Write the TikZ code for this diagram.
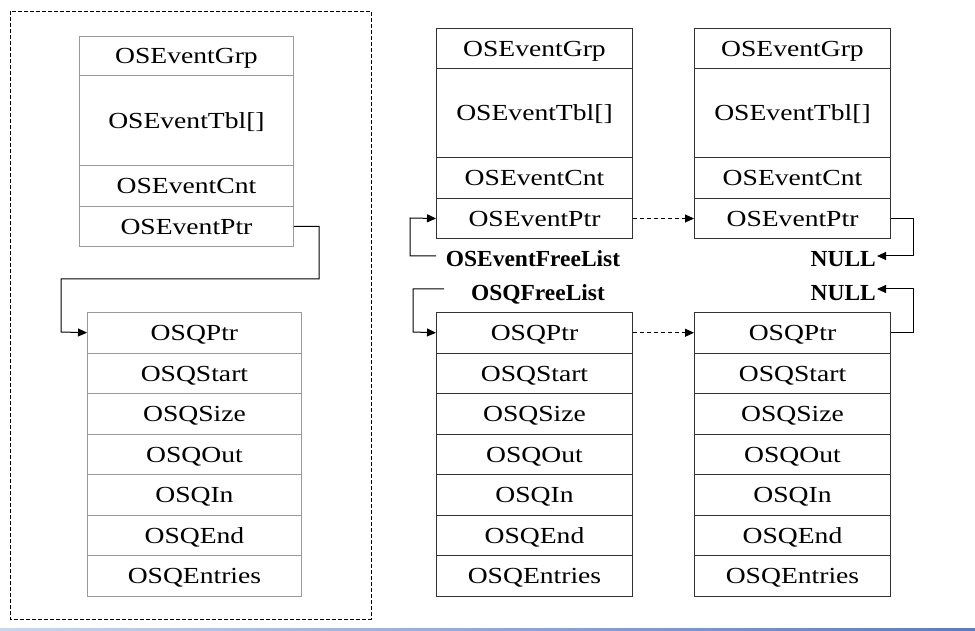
\documentclass[tikz,border=0pt]{standalone}
\usepackage{fontspec}
\setmainfont{Liberation Serif}[FakeStretch=1.2]
\newfontfamily\lblfont{Liberation Serif}[FakeStretch=1.02]
\usetikzlibrary{arrows.meta}
\definecolor{lgray}{HTML}{9A9A9A}
\definecolor{dgray}{HTML}{333333}
\definecolor{stripL}{HTML}{C8D6F0}
\definecolor{stripR}{HTML}{5A7CC0}
\begin{document}
\begin{tikzpicture}[x=1pt,y=-1pt,
  cell/.style={draw=lgray, line width=0.9pt, inner sep=0pt, anchor=north west,
    text height=16pt, text depth=0pt, font=\fontsize{23}{27}\selectfont},
  lcell/.style={cell, minimum width=214pt},
  rcell/.style={cell, draw=dgray, line width=1pt, minimum width=196pt},
  lbl/.style={inner sep=0pt, text height=16pt, text depth=0pt,
    font=\lblfont\bfseries\fontsize{23}{27}\selectfont},
  conn/.style={draw=black, line width=1pt, -{Triangle[length=9pt,width=8pt]}},
  dconn/.style={conn, dash pattern=on 4pt off 3pt}
]
\useasboundingbox (0,0) rectangle (975,631);
\fill[white] (0,0) rectangle (975,631);
% bottom strip
\shade[left color=stripL, right color=stripR] (0,628) rectangle (975,631);

% left dashed frame
\draw[line width=0.8pt, dash pattern=on 4pt off 2pt] (10,11) rectangle (371,619);

% left event box
\node[lcell, minimum height=39pt] (Lgrp) at (79,36) {OSEventGrp};
\node[lcell, minimum height=90pt] (Ltbl) at (79,75) {OSEventTbl[]};
\node[lcell, minimum height=41pt] (Lcnt) at (79,165) {OSEventCnt};
\node[lcell, minimum height=40pt] (Lptr) at (79,206) {OSEventPtr};

% left queue box
\foreach \t [count=\i] in {OSQPtr,OSQStart,OSQSize,OSQOut,OSQIn,OSQEnd,OSQEntries}
  \node[lcell, minimum height=40.5pt] (Lq\i) at (87,{312+40.5*(\i-1)}) {\t};

% right event boxes
\foreach \n/\x in {A/436,B/694}{
  \node[rcell, minimum height=40pt] (\n grp) at (\x,28) {OSEventGrp};
  \node[rcell, minimum height=89pt] (\n tbl) at (\x,68) {OSEventTbl[]};
  \node[rcell, minimum height=41pt] (\n cnt) at (\x,157) {OSEventCnt};
  \node[rcell, minimum height=40pt] (\n ptr) at (\x,198) {OSEventPtr};
  \foreach \t [count=\i] in {OSQPtr,OSQStart,OSQSize,OSQOut,OSQIn,OSQEnd,OSQEntries}
    \node[rcell, minimum height=40.5pt] (\n q\i) at (\x,{312+40.5*(\i-1)}) {\t};
}

% labels
\node[lbl] (efl) at (533,259) {OSEventFreeList};
\node[lbl] (qfl) at (538,293) {OSQFreeList};
\node[lbl, anchor=east] (n1) at (876,259) {NULL};
\node[lbl, anchor=east] (n2) at (876,293) {NULL};
\coordinate (eflend) at (436,256);
\coordinate (qflend) at (444,289);
\coordinate (n1end) at (877,256);
\coordinate (n2end) at (877,289);

% connectors
\draw[conn] (Lptr.east) -| (319,279) -| (61,332) -- (Lq1.west);
\draw[dconn] (Aptr.east) -- (Bptr.west);
\draw[dconn] (Aq1.east) -- (Bq1.west);
\draw[conn] (eflend) -| (410,218) -- (Aptr.west);
\draw[conn] (qflend) -| (413,332) -- (Aq1.west);
\draw[conn] (Bptr.east) -| (913,256) -- (n1end);
\draw[conn] (Bq1.east) -| (913,289) -- (n2end);
\end{tikzpicture}
\end{document}
